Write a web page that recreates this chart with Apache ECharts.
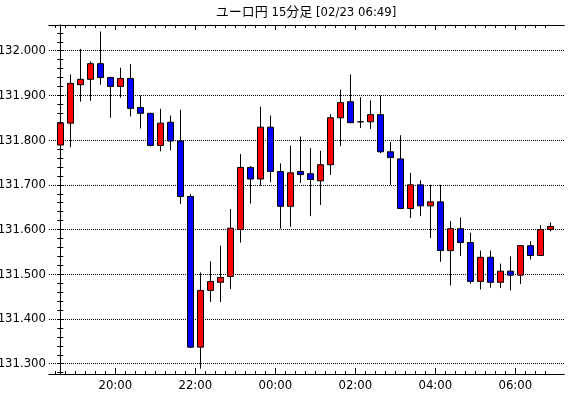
<!DOCTYPE html>
<html>
<head>
<meta charset="utf-8">
<script src="https://cdn.jsdelivr.net/npm/echarts@6/dist/echarts.min.js"></script>
<style>html,body{margin:0;padding:0;background:#fff;}#c{width:570px;height:398px;}</style>
</head>
<body>
<div id="c"></div>
<script>
// candle start times (15 min)
var times = ['18:30','18:45','19:00','19:15','19:30','19:45','20:00','20:15','20:30','20:45',
  '21:00','21:15','21:30','21:45','22:00','22:15','22:30','22:45','23:00','23:15',
  '23:30','23:45','00:00','00:15','00:30','00:45','01:00','01:15','01:30','01:45',
  '02:00','02:15','02:30','02:45','03:00','03:15','03:30','03:45','04:00','04:15',
  '04:30','04:45','05:00','05:15','05:30','05:45','06:00','06:15','06:30','06:45'];
var openV  = [131.789,131.838,131.924,131.936,131.971,131.940,131.920,131.938,131.873,131.860,
  131.788,131.840,131.798,131.674,131.337,131.464,131.482,131.495,131.600,131.739,
  131.713,131.829,131.730,131.652,131.730,131.725,131.709,131.745,131.850,131.886,
  131.841,131.841,131.857,131.774,131.758,131.647,131.700,131.653,131.662,131.553,
  131.602,131.571,131.484,131.538,131.482,131.507,131.498,131.564,131.542,131.600];
var closeV = [131.838,131.927,131.936,131.971,131.940,131.920,131.938,131.871,131.860,131.788,
  131.838,131.798,131.674,131.337,131.464,131.484,131.493,131.603,131.739,131.713,
  131.829,131.730,131.652,131.727,131.723,131.712,131.745,131.850,131.884,131.839,
  131.841,131.857,131.774,131.761,131.647,131.700,131.653,131.662,131.553,131.602,
  131.571,131.484,131.538,131.482,131.507,131.498,131.564,131.542,131.600,131.607];
var lowV   = [131.733,131.784,131.886,131.888,131.924,131.850,131.895,131.853,131.826,131.786,
  131.775,131.777,131.657,131.335,131.289,131.438,131.438,131.467,131.571,131.658,
  131.698,131.706,131.602,131.606,131.704,131.630,131.655,131.722,131.787,131.839,
  131.827,131.825,131.771,131.700,131.647,131.626,131.630,131.581,131.528,131.475,
  131.541,131.479,131.466,131.470,131.469,131.464,131.478,131.533,131.542,131.596];
var highV  = [131.866,131.947,132.004,131.976,132.043,131.942,131.962,131.970,131.900,131.860,
  131.870,131.855,131.868,131.679,131.504,131.529,131.564,131.646,131.769,131.742,
  131.875,131.855,131.748,131.788,131.808,131.782,131.776,131.858,131.913,131.947,
  131.896,131.889,131.900,131.796,131.811,131.727,131.710,131.700,131.700,131.619,
  131.627,131.593,131.553,131.553,131.524,131.540,131.564,131.574,131.610,131.616];
// tick labels
var xTickLabels = ['20:00','22:00','00:00','02:00','04:00','06:00'];
var yTickLabels = [131.3,131.4,131.5,131.6,131.7,131.8,131.9,132.0];
var titleText = 'ユーロ円 15分足 [02/23 06:49]';

var data = times.map(function (t, i) { return [i, openV[i], closeV[i], lowV[i], highV[i]]; });
var xMajor = xTickLabels.map(function (l) { return times.indexOf(l) - 0.5; });
var xMinor = times.map(function (t, i) { return i - 0.5; });
var yMinor = [];
for (var k = 0; k <= 38; k++) yMinor.push(Math.round((131.28 + k * 0.02) * 100) / 100);

var FONT = "'Liberation Sans Narrow','DejaVu Sans Condensed','Noto Sans CJK JP',sans-serif";
var XMIN = -1.13, XMAX = 50.37, YMIN = 131.277, YMAX = 132.0575;
var line = {show: true, lineStyle: {color: '#000', width: 1}};

function xAx(pos, ticks, len, labels) {
  return {
    type: 'value', position: pos, min: XMIN, max: XMAX, gridIndex: 0,
    axisLine: line,
    axisTick: {show: true, inside: true, length: len, customValues: ticks, lineStyle: {color: '#000'}},
    axisLabel: labels ? {
      show: true, customValues: ticks, margin: 5, color: '#000', fontSize: 13, fontFamily: FONT,
      formatter: function (v) { return times[Math.round(v + 0.5)]; }
    } : {show: false},
    splitLine: {show: false}
  };
}
function yAx(pos, ticks, labels, split) {
  return {
    type: 'value', position: pos, min: YMIN, max: YMAX, gridIndex: 0,
    axisLine: split ? {show: false} : line,
    axisTick: {show: !split, inside: true, length: 3, customValues: ticks, lineStyle: {color: '#000'}},
    axisLabel: labels ? {
      show: true, customValues: yTickLabels, margin: 3, color: '#000', fontSize: 13, fontFamily: FONT,
      formatter: function (v) { return v.toFixed(3); }
    } : {show: false},
    splitLine: split ? {show: true, lineStyle: {color: '#000', width: 1, type: [1, 1]}} : {show: false}
  };
}

var chart = echarts.init(document.getElementById('c'), null, {renderer: 'canvas'});
chart.setOption({
  animation: false,
  backgroundColor: '#fff',
  title: {
    text: titleText, left: 306, top: 6, padding: 0, textAlign: 'center',
    textStyle: {color: '#000', fontSize: 13, fontWeight: 'normal', fontFamily: FONT}
  },
  grid: {left: 49, top: 25, width: 515, height: 349, containLabel: false, outerBoundsMode: 'none'},
  xAxis: [
    xAx('bottom', xMinor, 3, false),
    xAx('bottom', xMajor, 6, true),
    xAx('top', xMinor, 3, false),
    xAx('top', xMajor, 5, false)
  ],
  yAxis: [
    yAx('left', yMinor, true, false),
    yAx('right', yMinor, false, false),
    yAx('left', yTickLabels, false, true)
  ],
  series: [{
    type: 'candlestick', xAxisIndex: 0, yAxisIndex: 0,
    barWidth: 6,
    data: data,
    itemStyle: {
      color: '#ff0000', color0: '#0000ff',
      borderColor: '#000', borderColor0: '#000', borderColorDoji: '#000', borderWidth: 1
    }
  }]
});
</script>
</body>
</html>
